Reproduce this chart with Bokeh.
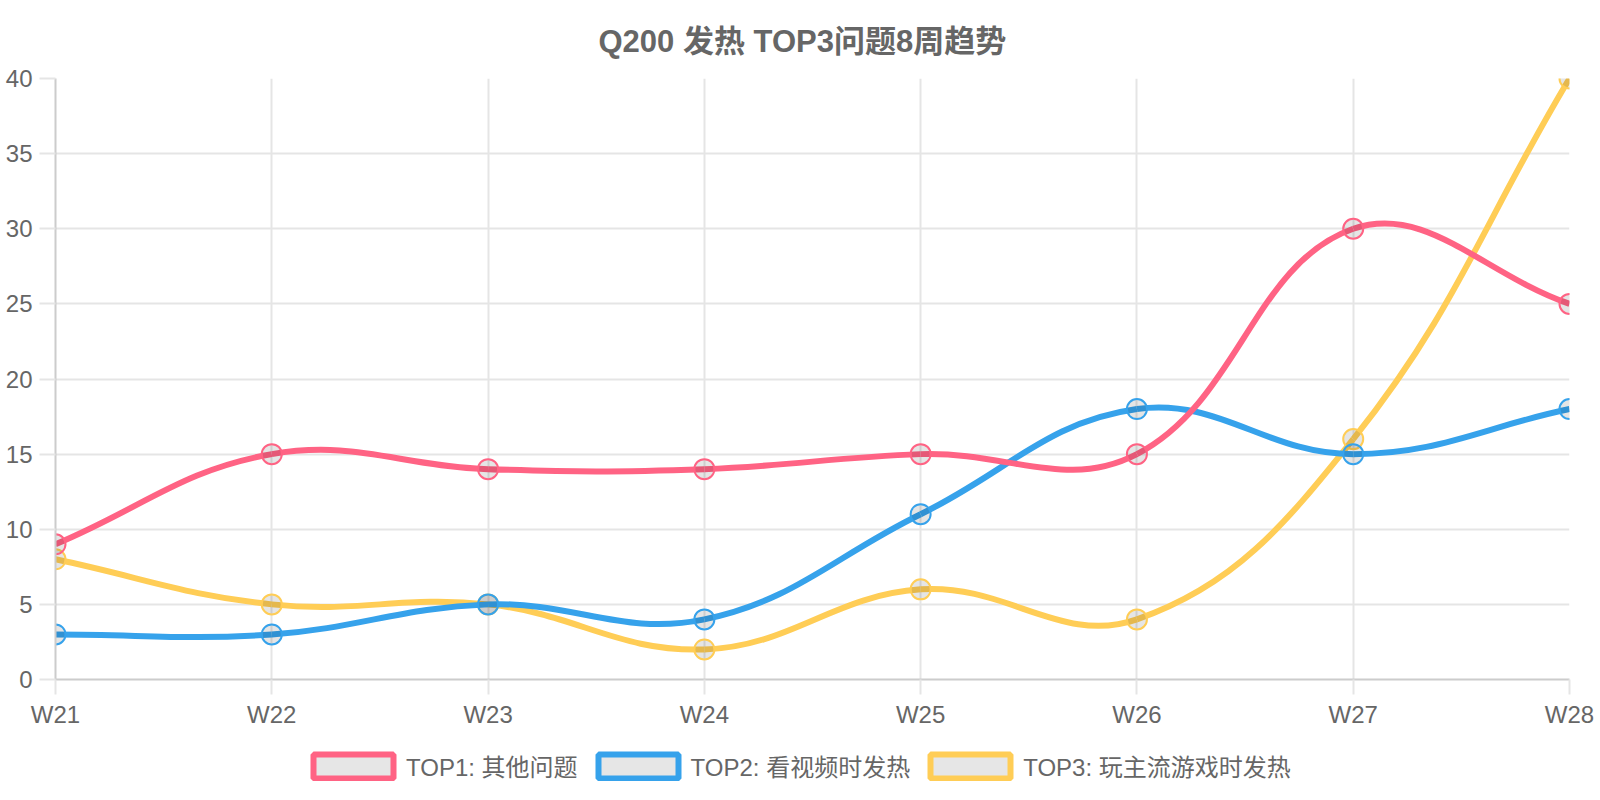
import math

from bokeh.embed import file_html
from bokeh.layouts import column
from bokeh.models import ColumnDataSource, FixedTicker, Legend, LegendItem, Range1d
from bokeh.plotting import figure
from bokeh.resources import INLINE

weeks = ["W21", "W22", "W23", "W24", "W25", "W26", "W27", "W28"]
top1 = [9, 15, 14, 14, 15, 15, 30, 25]
top2 = [3, 3, 5, 4, 11, 18, 15, 18]
top3 = [8, 5, 5, 2, 6, 4, 16, 40]
names = ["TOP1: 其他问题", "TOP2: 看视频时发热", "TOP3: 玩主流游戏时发热"]
colors = ["#ff6384", "#36a2eb", "#ffcd56"]
y_ticks = [0, 5, 10, 15, 20, 25, 30, 35, 40]

FONT = "Liberation Sans, Noto Sans CJK SC"
TEXT = "#666666"
FRAME_W, FRAME_H = 1514, 601
Y_MAX = 40


def spline_segments(ys, tension=0.4):
    # bezier control points like chart.js (computed in pixel space)
    n = len(ys)
    kx = FRAME_W / (n - 1)
    ky = FRAME_H / Y_MAX
    px = [i * kx for i in range(n)]
    py = [v * ky for v in ys]
    prev_c, next_c = [], []
    for i in range(n):
        a, b = max(i - 1, 0), min(i + 1, n - 1)
        d01 = math.hypot(px[i] - px[a], py[i] - py[a])
        d12 = math.hypot(px[b] - px[i], py[b] - py[i])
        tot = d01 + d12
        fa = tension * (d01 / tot if tot else 0)
        fb = tension * (d12 / tot if tot else 0)
        dx, dy = px[b] - px[a], py[b] - py[a]
        pc = (px[i] - fa * dx, py[i] - fa * dy)
        nc = (px[i] + fb * dx, py[i] + fb * dy)
        clamp = lambda q: (min(max(q[0], 0), FRAME_W) / kx, min(max(q[1], 0), FRAME_H) / ky)
        prev_c.append(clamp(pc))
        next_c.append(clamp(nc))
    xs = list(range(n))
    return dict(
        x0=xs[:-1], y0=list(ys[:-1]), x1=xs[1:], y1=list(ys[1:]),
        cx0=[c[0] for c in next_c[:-1]], cy0=[c[1] for c in next_c[:-1]],
        cx1=[c[0] for c in prev_c[1:]], cy1=[c[1] for c in prev_c[1:]],
    )


p = figure(width=1600, height=740, output_backend="svg",
           toolbar_location=None, x_range=Range1d(0, 7), y_range=Range1d(0, Y_MAX),
           min_border_left=55, min_border_right=31, min_border_top=78, min_border_bottom=61,
           title="Q200 发热 TOP3问题8周趋势")
p.outline_line_color = None
p.title.align = "left"
p.title.offset = 543
p.title.standoff = 40
p.title.text_font = FONT
p.title.text_font_size = "31px"
p.title.text_font_style = "bold"
p.title.text_color = TEXT

p.xaxis.ticker = FixedTicker(ticks=list(range(len(weeks))))
p.xaxis.major_label_overrides = {i: w for i, w in enumerate(weeks)}
p.yaxis.ticker = FixedTicker(ticks=y_ticks)
for ax in (p.xaxis, p.yaxis):
    ax.axis_line_color = "#cccccc"
    ax.axis_line_width = 2
    ax.major_tick_line_color = "#e5e5e5"
    ax.major_tick_line_width = 2
    ax.major_tick_in = 0
    ax.minor_tick_line_color = None
    ax.major_label_text_font = FONT
    ax.major_label_text_font_size = "24px"
    ax.major_label_text_color = TEXT
p.xaxis.major_tick_out = 15
p.xaxis.major_label_standoff = 6
p.yaxis.major_tick_out = 16
p.yaxis.major_label_standoff = 7
p.grid.grid_line_color = "#e5e5e5"
p.grid.grid_line_width = 2

series = [top1, top2, top3]
for vals, name, col in reversed(list(zip(series, names, colors))):
    seg = ColumnDataSource(spline_segments(vals))
    p.bezier("x0", "y0", "x1", "y1", "cx0", "cy0", "cx1", "cy1", source=seg,
             line_color=col, line_width=6)
    p.scatter(list(range(len(vals))), vals, size=20, marker="circle",
              fill_color="black", fill_alpha=0.1, line_color=col, line_width=2)

# legend strip under the chart
lg = figure(width=1600, height=60, output_backend="svg", toolbar_location=None,
            x_range=Range1d(0, 1), y_range=Range1d(0, 1), min_border=0)
lg.axis.visible = False
lg.grid.visible = False
lg.outline_line_color = None

items = []
for name, col in zip(names, colors):
    r = lg.quad(left=[-3], right=[-2], bottom=[-3], top=[-2], fill_color="#e6e6e6",
                line_color=col, line_width=6)
    items.append(LegendItem(label=name, renderers=[r]))

legend = Legend(items=items, orientation="horizontal", location=(248, 17),
                glyph_width=100, glyph_height=30, label_height=30,
                label_standoff=3, spacing=10, padding=0, margin=0,
                label_text_font=FONT, label_text_font_size="24px",
                label_text_color=TEXT, border_line_alpha=0,
                background_fill_alpha=0)
lg.add_layout(legend, "center")

page = column(p, lg, spacing=0)
open("out.html", "w").write(file_html(page, INLINE))
